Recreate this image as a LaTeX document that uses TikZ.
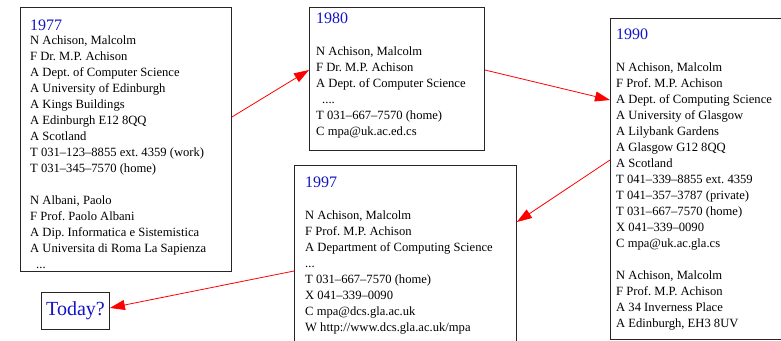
\documentclass[tikz,border=0pt]{standalone}
\usepackage{fontspec}
\setmainfont{Liberation Serif}
\usetikzlibrary{arrows.meta,calc}
\definecolor{yrblue}{RGB}{20,20,200}
\frenchspacing
\tikzset{
  box/.style={draw=black!85, line width=0.9pt, fill=white, inner sep=0pt, anchor=north west},
  year/.style={inner sep=0pt, anchor=base west, text=yrblue, font=\fontsize{16}{19}\selectfont},
  txt/.style={inner sep=0pt, anchor=base west, font=\fontsize{12.6}{16}\selectfont},
  link/.style={draw=red, line width=0.8pt, -{Triangle[length=15pt,width=10pt]}}
}
\begin{document}
\begin{tikzpicture}[x=1pt,y=-1pt]
\useasboundingbox (0,0) rectangle (781,340);
\clip (0,0) rectangle (781,340);
% boxes
\node[box, minimum width=211pt, minimum height=264pt] (b77) at (20,7) {};
\node[box, minimum width=175pt, minimum height=143pt] (b80) at (309,7) {};
\node[box, minimum width=222pt, minimum height=200pt] (b97) at (294,165) {};
\node[box, minimum width=190pt, minimum height=321pt] (b90) at (610,18) {};
\node[box, minimum width=68pt, minimum height=37pt, text=yrblue, font=\fontsize{20}{24}\selectfont] (today) at (41,292) {Today?};
% years
\node[year] (y77) at (30,30) {1977};
\node[year] (y80) at (316,23.5) {1980};
\node[year] (y90) at (616,39) {1990};
\node[year] (y97) at (305,187) {1997};
% bodies
\node[txt] (t77) at (30,44.5) {\parbox[t]{220pt}{%
N Achison, Malcolm\\
F Dr. M.P. Achison\\
A Dept. of Computer Science\\
A University of Edinburgh\\
A Kings Buildings\\
A Edinburgh E12 8QQ\\
A Scotland\\
T 031--123--8855 ext. 4359 (work)\\
T 031--345--7570 (home)\\[16pt]
N Albani, Paolo\\
F Prof. Paolo Albani\\
A Dip. Informatica e Sistemistica\\
A Universita di Roma La Sapienza\\
\hspace*{6pt}...}};
\node[txt] (t80) at (316,55.5) {\parbox[t]{200pt}{%
N Achison, Malcolm\\
F Dr. M.P. Achison\\
A Dept. of Computer Science\\
\hspace*{6pt}....\\
T 031--667--7570 (home)\\
C mpa@uk.ac.ed.cs}};
\node[txt] (t90) at (616,71.5) {\parbox[t]{200pt}{%
N Achison, Malcolm\\
F Prof. M.P. Achison\\
A Dept. of Computing Science\\
A University of Glasgow\\
A Lilybank Gardens\\
A Glasgow G12 8QQ\\
A Scotland\\
T 041--339--8855 ext. 4359\\
T 041--357--3787 (private)\\
T 031--667--7570 (home)\\
X 041--339--0090\\
C mpa@uk.ac.gla.cs\\[16pt]
N Achison, Malcolm\\
F Prof. M.P. Achison\\
A 34 Inverness Place\\
A Edinburgh, EH3 8UV}};
\node[txt] (t97) at (305,219.5) {\parbox[t]{220pt}{%
N Achison, Malcolm\\
F Prof. M.P. Achison\\
A Department of Computing Science\\
...\\
T 031--667--7570 (home)\\
X 041--339--0090\\
C mpa@dcs.gla.ac.uk\\
W http://www.dcs.gla.ac.uk/mpa}};
% connectors
\draw[link] ([yshift=-110pt]b77.north east) -- ([yshift=-63pt]b80.north west);
\draw[link] ([yshift=-63pt]b80.north east) -- ([yshift=-82pt]b90.north west);
\draw[link] ([yshift=-142pt]b90.north west) -- ([yshift=-57pt]b97.north east);
\draw[link] ([yshift=-106pt]b97.north west) -- ([yshift=3pt]today.east);
\end{tikzpicture}
\end{document}
